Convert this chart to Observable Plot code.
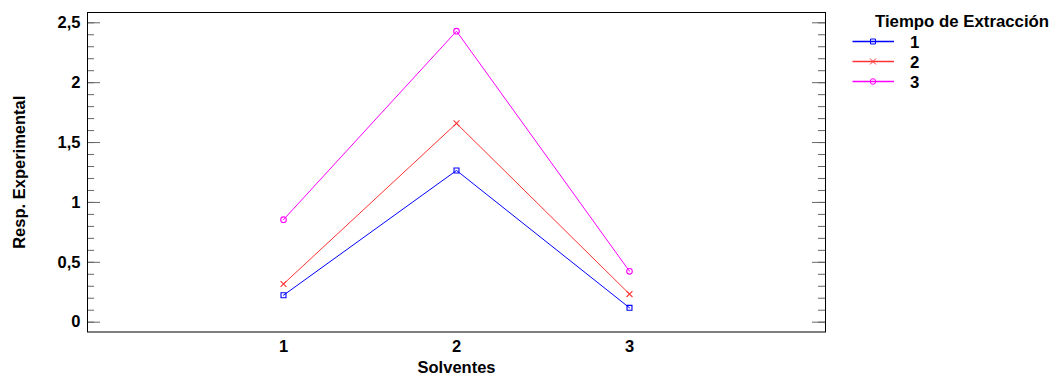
<!DOCTYPE html>
<html><head><meta charset="utf-8">
<script src="https://cdn.jsdelivr.net/npm/d3@7"></script>
<script src="https://cdn.jsdelivr.net/npm/@observablehq/plot@0.6"></script>
<style>
body{margin:0;background:#fff;}
#wrap{position:relative;width:1063px;height:376px;font-family:"Liberation Sans",Arial,sans-serif;}
#legend{position:absolute;left:840px;top:0;}
</style>
</head><body><div id="wrap"></div>
<script>
// ---- data ----
const solventes = [1, 2, 3];
const seriesNames = ["1", "2", "3"];
const tiempo1 = [0.225, 1.267, 0.12];
const tiempo2 = [0.319, 1.66, 0.235];
const tiempo3 = [0.856, 2.43, 0.425];
const yTickValues = [0, 0.5, 1, 1.5, 2, 2.5];
const yMinorTicks = [0, 0.1, 0.2, 0.3, 0.4, 0.5, 0.6, 0.7, 0.8, 0.9, 1, 1.1, 1.2, 1.3, 1.4, 1.5, 1.6, 1.7, 1.8, 1.9, 2, 2.1, 2.2, 2.3, 2.4, 2.5];
const xLabel = "Solventes";
const yLabel = "Resp. Experimental";
const legendTitle = "Tiempo de Extracción";

// ---- styles ----
const seriesColors = ["#0000ff", "#ff3333", "#ff00ff"];
const seriesSymbols = ["square", "times", "circle"];
const font = "'Liberation Sans', Arial, sans-serif";
const FS = 16.5;

const seriesValues = [tiempo1, tiempo2, tiempo3];
const rows = [];
seriesValues.forEach((vals, i) => {
  vals.forEach((v, j) => rows.push({s: solventes[j], v, t: seriesNames[i]}));
});

const W = 1063, H = 376, mL = 87, mR = 238, mT = 12, mB = 44.5;
const fw = W - mL - mR;
const fmt = d => String(d).replace(".", ",");

const seriesMarks = seriesNames.flatMap((name, i) => {
  const data = rows.filter(r => r.t === name);
  return [
    Plot.line(data, {x: "s", y: "v", stroke: seriesColors[i], strokeWidth: 1}),
    Plot.dot(data, {x: "s", y: "v", stroke: seriesColors[i], symbol: seriesSymbols[i], r: 2.8, fill: "none", strokeWidth: 1.1})
  ];
});

const chart = Plot.plot({
  width: W, height: H,
  marginLeft: mL, marginRight: mR, marginTop: mT, marginBottom: mB,
  style: {fontFamily: font, fontSize: FS + "px", fontWeight: "bold", color: "#000", background: "#fff", overflow: "visible"},
  x: {domain: [1 - 1.133, 3 + 1.133], label: null},
  y: {domain: [-0.082, 2.586], label: null},
  marks: [
    Plot.gridY(yMinorTicks, {stroke: "#666", strokeOpacity: 1, insetRight: fw - 7}),
    Plot.gridY(yMinorTicks, {stroke: "#666", strokeOpacity: 1, insetLeft: fw - 7}),
    Plot.gridY(yTickValues, {stroke: "#666", strokeOpacity: 1, insetRight: fw - 13}),
    Plot.gridY(yTickValues, {stroke: "#666", strokeOpacity: 1, insetLeft: fw - 13}),
    Plot.frame({stroke: "#000"}),
    Plot.axisY(yTickValues, {tickSize: 0, tickPadding: 7, tickFormat: fmt, label: null, fontWeight: "bold", fontSize: FS}),
    Plot.axisX(solventes, {tickSize: 0, tickPadding: 8, tickFormat: d => String(d), label: null, fontWeight: "bold", fontSize: FS}),
    Plot.text([xLabel], {frameAnchor: "bottom", lineAnchor: "top", dy: 29, fontSize: FS, fontWeight: "bold"}),
    Plot.text([yLabel], {frameAnchor: "left", textAnchor: "middle", rotate: -90, dx: -68, fontSize: FS, fontWeight: "bold"}),
    ...seriesMarks
  ]
});
document.getElementById("wrap").appendChild(chart);

// ---- legend ----
const lg = d3.select("#wrap").append("svg").attr("id", "legend")
  .attr("width", 223).attr("height", 100)
  .style("font-family", font).style("font-weight", "bold");
lg.append("text").attr("x", 35).attr("y", 27).attr("font-size", 16.8).text(legendTitle);
const d3sym = {square: d3.symbolSquare, times: d3.symbolTimes, circle: d3.symbolCircle};
seriesNames.forEach((name, i) => {
  const y = 41.5 + i * 20;
  const g = lg.append("g");
  g.append("line").attr("x1", 12.5).attr("x2", 54).attr("y1", y).attr("y2", y)
    .attr("stroke", seriesColors[i]).attr("stroke-width", 1.3);
  g.append("path").attr("d", d3.symbol(d3sym[seriesSymbols[i]], 2.8 * 2.8 * Math.PI)())
    .attr("transform", `translate(33,${y})`).attr("fill", "none").attr("stroke", seriesColors[i]);
  g.append("text").attr("x", 70).attr("y", y + 6).attr("font-size", 16.8).text(name);
});
</script>
</body></html>
